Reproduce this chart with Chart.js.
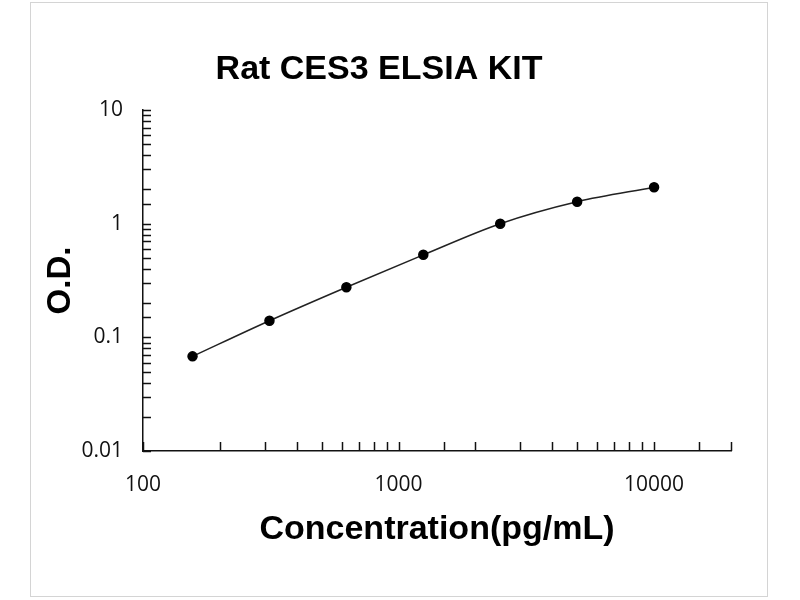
<!DOCTYPE html>
<html>
<head>
<meta charset="utf-8">
<title>Rat CES3 ELSIA KIT</title>
<script src="https://cdn.jsdelivr.net/npm/chart.js@4/dist/chart.umd.min.js"></script>
<style>
    html, body { margin: 0; padding: 0; background: #fff; }
    .wrap { position: relative; width: 800px; height: 600px; }
    .frame {
        position: absolute; left: 30px; top: 2px; width: 738px; height: 595px;
        border: 1px solid #d4d4d4; box-sizing: border-box; pointer-events: none;
    }
</style>
</head>
<body>
<div class="wrap">
    <canvas id="curveChart" width="800" height="600"></canvas>
    <div class="frame"></div>
</div>
<script>
// Standard curve
const concentrations = [156.25, 312.5, 625, 1250, 2500, 5000, 10000];
const odValues = [0.068, 0.140, 0.276, 0.532, 1.00, 1.56, 2.09];

// Axis ranges and the labels that are shown
const xRange = [100, 20000];
const yRange = [0.01, 10];
const xTickLabels = ['100', '1000', '10000'];
const yTickLabels = ['0.01', '0.1', '1', '10'];

const tickFont = { family: 'Open Sans', size: 21 };
const titleFont = { family: 'Liberation Sans', size: 34, weight: 'bold' };

// only label the decades
function labelFor(list, value) {
    const found = list.find(l => Math.abs(Math.log10(Number(l)) - Math.log10(value)) < 1e-6);
    return found || '';
}

// Chart.js draws tick marks outside the axes, the reference has them inside
const innerTicks = {
    id: 'innerTicks',
    afterDraw(chart) {
        const ctx = chart.ctx;
        const x = chart.scales.x;
        const y = chart.scales.y;
        const area = chart.chartArea;
        ctx.save();
        ctx.strokeStyle = '#111';
        ctx.lineWidth = 1.5;
        ctx.beginPath();
        x.ticks.forEach(t => {
            const px = Math.round(x.getPixelForValue(t.value)) + 0.5;
            ctx.moveTo(px, area.bottom);
            ctx.lineTo(px, area.bottom - 9);
        });
        y.ticks.forEach(t => {
            const py = Math.round(y.getPixelForValue(t.value)) + 0.5;
            ctx.moveTo(area.left, py);
            ctx.lineTo(area.left + 8, py);
        });
        ctx.stroke();
        ctx.restore();
    }
};

const ctx = document.getElementById('curveChart').getContext('2d');
new Chart(ctx, {
    type: 'line',
    data: {
        datasets: [{
            data: concentrations.map((c, i) => ({ x: c, y: odValues[i] })),
            borderColor: '#222',
            borderWidth: 1.5,
            backgroundColor: '#000',
            pointBackgroundColor: '#000',
            pointBorderColor: '#000',
            pointRadius: 4.5,
            fill: false,
            cubicInterpolationMode: 'monotone'
        }]
    },
    options: {
        responsive: false,
        animation: false,
        layout: { padding: { left: 27, right: 69, top: 0, bottom: 0 } },
        plugins: {
            legend: { display: false },
            tooltip: { enabled: false },
            title: {
                display: true,
                text: 'Rat CES3 ELSIA KIT',
                color: '#000',
                font: titleFont,
                padding: { top: 49.6, bottom: 19.6 }
            }
        },
        scales: {
            x: {
                type: 'logarithmic',
                min: xRange[0],
                max: xRange[1],
                afterFit(scale) { scale.height = 149; },
                grid: { display: true, drawOnChartArea: false, drawTicks: false },
                border: { display: true, color: '#111', width: 1.5 },
                ticks: {
                    autoSkip: false,
                    maxRotation: 0,
                    padding: 21,
                    color: '#111',
                    font: tickFont,
                    callback: value => labelFor(xTickLabels, value)
                },
                title: {
                    display: true,
                    text: 'Concentration(pg/mL)',
                    color: '#000',
                    font: { family: 'Liberation Sans', size: 34, weight: 'bold' },
                    padding: { top: 0, bottom: 50 }
                }
            },
            y: {
                type: 'logarithmic',
                min: yRange[0],
                max: yRange[1],
                afterFit(scale) { scale.width = 116; },
                grid: { display: true, drawOnChartArea: false, drawTicks: false },
                border: { display: true, color: '#111', width: 1.5 },
                ticks: {
                    autoSkip: false,
                    padding: 20,
                    color: '#111',
                    font: tickFont,
                    callback: value => labelFor(yTickLabels, value)
                },
                title: {
                    display: true,
                    text: 'O.D.',
                    color: '#000',
                    font: { family: 'Liberation Sans', size: 33, weight: 'bold' },
                    padding: { top: 14, bottom: 0 }
                }
            }
        }
    },
    plugins: [innerTicks]
});
</script>
</body>
</html>
